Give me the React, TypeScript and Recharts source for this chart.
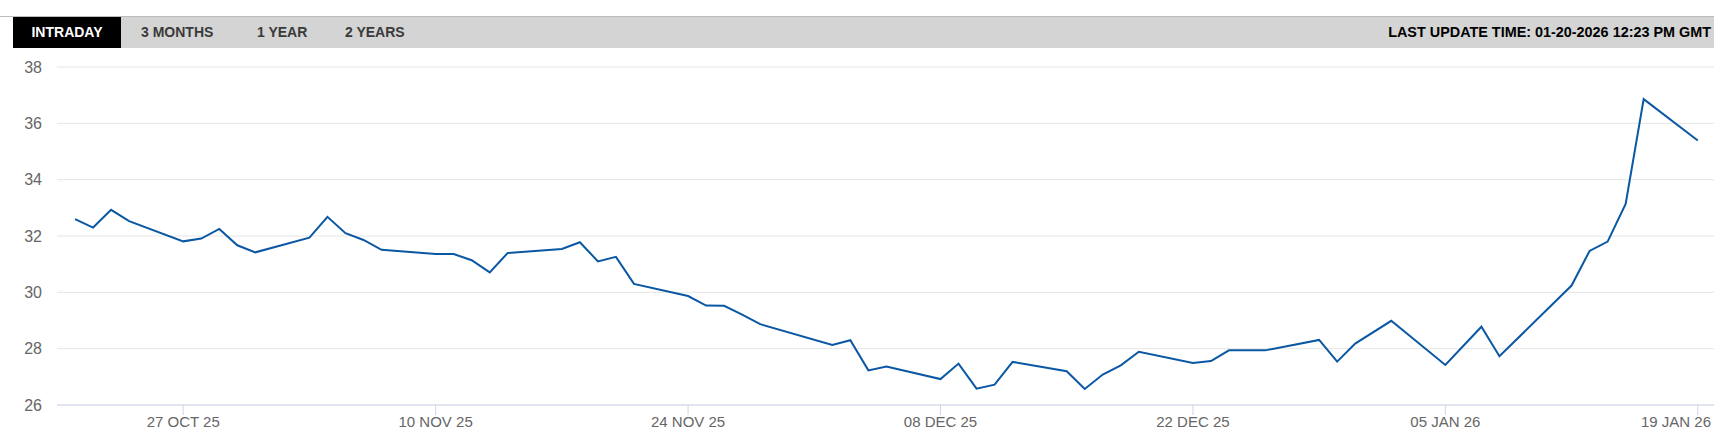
import { CartesianGrid, Line, LineChart, XAxis, YAxis } from "recharts"

const DATES = [
  "2025-10-21", "2025-10-22", "2025-10-23", "2025-10-24", "2025-10-27",
  "2025-10-28", "2025-10-29", "2025-10-30", "2025-10-31", "2025-11-03",
  "2025-11-04", "2025-11-05", "2025-11-06", "2025-11-07", "2025-11-10",
  "2025-11-11", "2025-11-12", "2025-11-13", "2025-11-14", "2025-11-17",
  "2025-11-18", "2025-11-19", "2025-11-20", "2025-11-21", "2025-11-24",
  "2025-11-25", "2025-11-26", "2025-11-27", "2025-11-28", "2025-12-02",
  "2025-12-03", "2025-12-04", "2025-12-05", "2025-12-08", "2025-12-09",
  "2025-12-10", "2025-12-11", "2025-12-12", "2025-12-15", "2025-12-16",
  "2025-12-17", "2025-12-18", "2025-12-19", "2025-12-22", "2025-12-23",
  "2025-12-24", "2025-12-26", "2025-12-29", "2025-12-30", "2025-12-31",
  "2026-01-02", "2026-01-05", "2026-01-07", "2026-01-08", "2026-01-12",
  "2026-01-13", "2026-01-14", "2026-01-15", "2026-01-16", "2026-01-19",
]

const VALUES = [
  32.6, 32.3, 32.93, 32.53, 31.81,
  31.91, 32.25, 31.67, 31.42, 31.94,
  32.68, 32.1, 31.86, 31.51, 31.36,
  31.36, 31.14, 30.71, 31.4, 31.54,
  31.78, 31.1, 31.26, 30.3, 29.87,
  29.53, 29.52, 29.21, 28.87, 28.13,
  28.3, 27.23, 27.37, 26.92, 27.47,
  26.58, 26.72, 27.53, 27.2, 26.57,
  27.08, 27.41, 27.89, 27.49, 27.56,
  27.94, 27.94, 28.31, 27.54, 28.18,
  28.99, 27.42, 28.78, 27.73, 30.24,
  31.47, 31.8, 33.14, 36.86, 35.39,
]

const TICK_DATES = [
  "2025-10-27", "2025-11-10", "2025-11-24", "2025-12-08",
  "2025-12-22", "2026-01-05", "2026-01-19",
]
const TICK_LABELS = [
  "27 OCT 25", "10 NOV 25", "24 NOV 25", "08 DEC 25",
  "22 DEC 25", "05 JAN 26", "19 JAN 26",
]
const Y_TICKS = [26, 28, 30, 32, 34, 36, 38]
const TABS = ["INTRADAY", "3 MONTHS", "1 YEAR", "2 YEARS"]
const UPDATE_TEXT = "LAST UPDATE TIME: 01-20-2026 12:23 PM GMT"

const START = Date.UTC(2025, 9, 20)
const dayOf = (s: string) => {
  const [y, m, d] = s.split("-").map(Number)
  return (Date.UTC(y, m - 1, d) - START) / 86400000
}

const chartData = DATES.map((d, i) => ({ day: dayOf(d), value: VALUES[i] }))
const tickDays = TICK_DATES.map(dayOf)
const labelFor = (v: number) => TICK_LABELS[tickDays.indexOf(v)] ?? ""

const FONT = '"Liberation Sans", Arial, sans-serif'
const TAB_LEFT = [13, 141, 257, 345]
const W = 1714

// keeps the last date label inside the chart, like the original does
function DateTick(props: any) {
  const { x, y, payload } = props
  const text = labelFor(payload.value)
  const half = 37
  const nearEdge = x + half > W - 2
  return (
    <text
      x={nearEdge ? W - 3 : x}
      y={y}
      dy="0.71em"
      textAnchor={nearEdge ? "end" : "middle"}
      fill="#666"
      fontSize={15}
      fontFamily={FONT}
    >
      {text}
    </text>
  )
}

export default function App() {
  return (
    <div
      style={{
        position: "absolute",
        left: 0,
        top: 0,
        width: W,
        height: 439,
        background: "#fff",
        fontFamily: FONT,
        overflow: "hidden",
      }}
    >
      <LineChart
        width={W}
        height={439}
        data={chartData}
        margin={{ top: 67, right: 0, bottom: 0, left: 0 }}
        style={{ position: "absolute", left: 0, top: 0 }}
      >
        <CartesianGrid vertical={false} stroke="#e6e6e6" />
        <XAxis
          dataKey="day"
          type="number"
          domain={[0, 91.9]}
          ticks={tickDays}
          height={34}
          stroke="#ccd6eb"
          tickSize={10}
          tickMargin={1}
          tick={<DateTick />}
          interval={0}
        />
        <YAxis
          domain={[26, 38]}
          ticks={Y_TICKS}
          width={57}
          axisLine={false}
          tickLine={false}
          tickSize={0}
          tickMargin={15}
          tick={{ fill: "#666", fontSize: 16, fontFamily: FONT }}
        />
        <Line
          type="linear"
          dataKey="value"
          stroke="#0a57a4"
          strokeWidth={2}
          dot={false}
          activeDot={false}
          isAnimationActive={false}
        />
      </LineChart>

      {/* tab bar */}
      <div
        style={{
          position: "absolute",
          left: 0,
          top: 16,
          width: W,
          height: 1,
          background: "#bcbcbc",
        }}
      />
      <div
        style={{
          position: "absolute",
          left: 13,
          top: 17,
          width: W - 13,
          height: 31,
          background: "#d4d4d4",
        }}
      />
      <div
        style={{
          position: "absolute",
          left: 13,
          top: 17,
          width: 108,
          height: 31,
          background: "#000",
        }}
      />
      {TABS.map((t, i) => (
        <div
          key={t}
          style={{
            position: "absolute",
            left: TAB_LEFT[i],
            top: 17,
            width: i === 0 ? 108 : "auto",
            height: 31,
            lineHeight: "31px",
            textAlign: i === 0 ? "center" : "left",
            fontSize: 14,
            fontWeight: 700,
            color: i === 0 ? "#fff" : "#3a3a3a",
            whiteSpace: "nowrap",
          }}
        >
          {t}
        </div>
      ))}
      <div
        style={{
          position: "absolute",
          right: 3,
          top: 17,
          height: 31,
          lineHeight: "31px",
          fontSize: 14.4,
          fontWeight: 700,
          color: "#000",
          whiteSpace: "nowrap",
        }}
      >
        {UPDATE_TEXT}
      </div>
    </div>
  )
}
